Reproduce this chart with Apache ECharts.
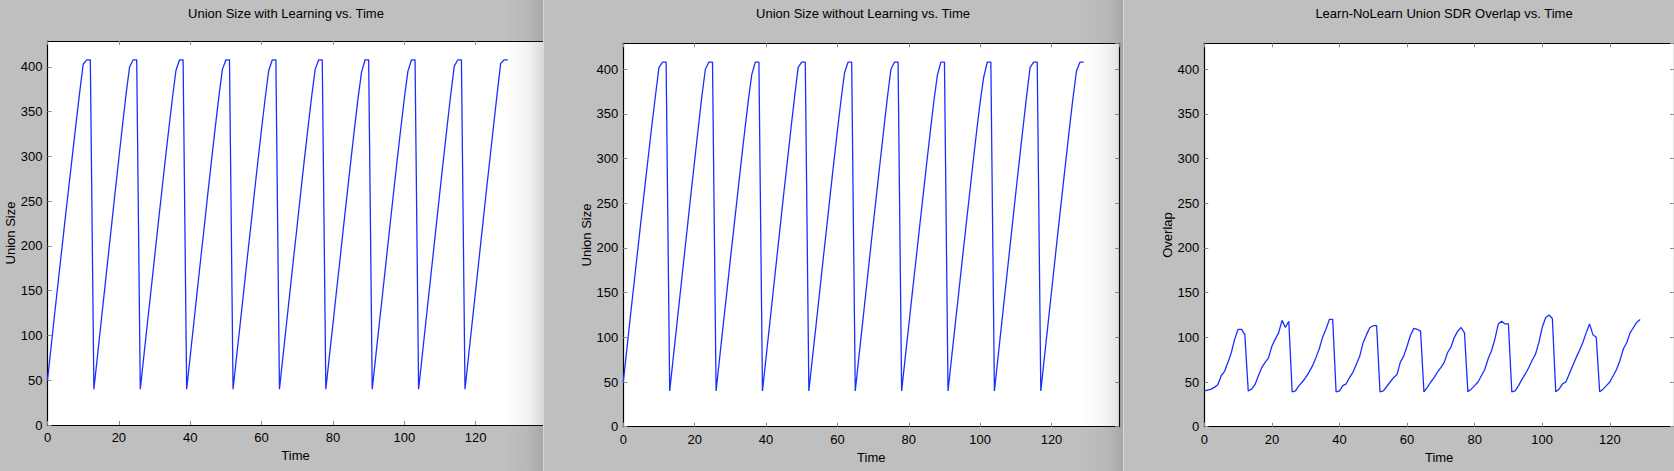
<!DOCTYPE html>
<html>
<head>
<meta charset="utf-8">
<script src="https://cdn.jsdelivr.net/npm/echarts@6/dist/echarts.min.js"></script>
<style>
html,body{margin:0;padding:0;background:#bfbfbf;}
#c{width:1674px;height:471px;}
</style>
</head>
<body>
<div id="c"></div>
<script>
// ---- data ----
const titles = ['Union Size with Learning vs. Time', 'Union Size without Learning vs. Time', 'Learn-NoLearn Union SDR Overlap vs. Time'];
const yNames = ['Union Size', 'Union Size', 'Overlap'];
const xName = 'Time';
const xTicks = [0, 20, 40, 60, 80, 100, 120];
const yTicks = [0, 50, 100, 150, 200, 250, 300, 350, 400];

const unionLearn = [
  50, 87, 124, 160, 196, 232, 267, 302, 337, 371, 403, 408, 408,
  40, 77, 114, 151, 188, 225, 262, 298, 334, 369, 400, 408, 408,
  40, 77, 114, 150, 187, 224, 260, 296, 331, 365, 396, 408, 408,
  40, 77, 114, 151, 188, 224, 261, 297, 332, 366, 397, 408, 408,
  40, 77, 113, 150, 187, 223, 260, 296, 331, 365, 396, 408, 408,
  40, 77, 114, 151, 188, 224, 261, 297, 332, 366, 397, 408, 408,
  40, 77, 113, 150, 186, 223, 259, 295, 330, 364, 394, 408, 408,
  40, 77, 114, 150, 187, 224, 260, 296, 331, 365, 395, 408, 408,
  40, 77, 114, 151, 188, 225, 262, 298, 334, 369, 401, 408, 408,
  40, 77, 114, 151, 188, 225, 262, 298, 334, 370, 404, 408, 408
];
const unionNoLearn = [
  50, 87, 124, 160, 196, 232, 267, 302, 337, 370, 402, 408, 408,
  40, 77, 114, 151, 188, 225, 262, 298, 334, 369, 400, 408, 408,
  40, 77, 114, 150, 187, 223, 259, 295, 330, 364, 394, 408, 408,
  40, 77, 114, 151, 188, 225, 262, 298, 334, 369, 402, 408, 408,
  40, 77, 113, 150, 187, 223, 260, 296, 331, 365, 396, 408, 408,
  40, 77, 114, 151, 188, 225, 261, 297, 333, 368, 400, 408, 408,
  40, 77, 113, 150, 186, 222, 258, 294, 329, 363, 393, 408, 408,
  40, 77, 114, 150, 187, 223, 259, 295, 330, 363, 391, 408, 408,
  40, 77, 114, 151, 188, 225, 262, 298, 334, 369, 402, 408, 408,
  40, 77, 114, 151, 188, 225, 261, 297, 333, 367, 398, 408, 408
];
const overlap = [
  40, 41, 42, 44, 47, 57, 62, 72, 83, 98, 109, 109, 103,
  40, 42, 47, 57, 66, 72, 77, 90, 98, 105, 119, 111, 118,
  39, 40, 46, 50, 55, 61, 68, 77, 87, 100, 109, 120, 120,
  39, 40, 46, 48, 55, 61, 70, 79, 94, 103, 111, 113, 113,
  39, 40, 45, 50, 55, 58, 72, 79, 90, 102, 110, 109, 107,
  39, 44, 50, 55, 61, 66, 72, 83, 89, 100, 107, 111, 105,
  39, 42, 46, 50, 57, 64, 76, 85, 98, 115, 118, 115, 115,
  39, 40, 46, 53, 59, 66, 74, 81, 94, 111, 122, 125, 121,
  39, 42, 48, 50, 59, 68, 77, 85, 94, 105, 115, 103, 100,
  39, 42, 46, 50, 57, 64, 74, 87, 94, 105, 111, 117, 120
];
const seriesData = [unionLearn, unionNoLearn, overlap];

// ---- layout ----
const FONT = '"Liberation Sans", Arial, Helvetica, sans-serif';
const XMAX = 139, YMAX = 429;
const grids = [
  {left: 47.5, top: 41, width: 496, height: 384},
  {left: 623.3, top: 43.3, width: 496, height: 383.4},
  {left: 1204.3, top: 43.3, width: 496, height: 383.4}
];
const titleX = [286, 863, 1444];
const tickStyle = {show: true, inside: true, length: 4, lineStyle: {color: '#8a8a8a', width: 1}};
const lineStyleAxis = {show: true, onZero: false, lineStyle: {color: '#000', width: 1.2}};

const xAxes = [], yAxes = [], series = [];
grids.forEach((g, i) => {
  xAxes.push({
    gridIndex: i, type: 'value', min: 0, max: XMAX, interval: 20, position: 'bottom',
    axisLine: lineStyleAxis, axisTick: tickStyle, splitLine: {show: false},
    axisLabel: {color: '#000', fontSize: 13, fontFamily: FONT, margin: 6, showMaxLabel: false,
      formatter: v => xTicks.indexOf(v) >= 0 ? String(v) : ''},
    name: xName, nameLocation: 'middle', nameGap: 22,
    nameTextStyle: {color: '#000', fontSize: 13, fontFamily: FONT}
  });
  xAxes.push({
    gridIndex: i, type: 'value', min: 0, max: XMAX, interval: 20, position: 'top',
    axisLine: lineStyleAxis, axisTick: tickStyle, splitLine: {show: false},
    axisLabel: {show: false}
  });
  yAxes.push({
    gridIndex: i, type: 'value', min: 0, max: YMAX, interval: 50, position: 'left',
    axisLine: lineStyleAxis, axisTick: tickStyle, splitLine: {show: false},
    axisLabel: {color: '#000', fontSize: 13, fontFamily: FONT, margin: 5, showMaxLabel: false,
      formatter: v => yTicks.indexOf(v) >= 0 ? String(v) : ''},
    name: yNames[i], nameLocation: 'middle', nameGap: 29, nameRotate: 90,
    nameTextStyle: {color: '#000', fontSize: 13, fontFamily: FONT}
  });
  if (i > 0) {
    yAxes.push({
      gridIndex: i, type: 'value', min: 0, max: YMAX, interval: 50, position: 'right',
      axisLine: lineStyleAxis, axisTick: tickStyle, splitLine: {show: false},
      axisLabel: {show: false}
    });
  }
});
const xIdx = [0, 2, 4];
const yIdx = [0, 1, 3];
seriesData.forEach((d, i) => {
  series.push({
    type: 'line', xAxisIndex: xIdx[i], yAxisIndex: yIdx[i],
    data: d.map((v, t) => [t, v]),
    showSymbol: false, symbol: 'none', smooth: false,
    lineStyle: {color: '#1a2fff', width: 1.3},
    animation: false, silent: true, clip: true
  });
});

const graphics = [];
titles.forEach((t, i) => {
  graphics.push({type: 'text', x: titleX[i], y: 13, z: 200,
    style: {text: t, fill: '#000', font: '13px ' + FONT, textAlign: 'center', textVerticalAlign: 'middle'}});
});
[543, 1123].forEach(x => {
  graphics.push({type: 'rect', shape: {x: x - 40, y: 0, width: 40, height: 471}, z: 150, silent: true,
    style: {fill: new echarts.graphic.LinearGradient(0, 0, 1, 0, [
      {offset: 0, color: 'rgba(70,70,70,0)'}, {offset: 0.6, color: 'rgba(70,70,70,0.06)'},
      {offset: 1, color: 'rgba(70,70,70,0.2)'}])}});
  graphics.push({type: 'rect', shape: {x: x, y: 0, width: 1, height: 471}, z: 151, silent: true,
    style: {fill: '#d6d6d6'}});
});

const chart = echarts.init(document.getElementById('c'), null, {renderer: 'svg', width: 1674, height: 471});
chart.setOption({
  backgroundColor: '#bfbfbf',
  animation: false,
  grid: grids.map(g => Object.assign({show: true, backgroundColor: '#fff', borderWidth: 0, containLabel: false}, g)),
  xAxis: xAxes, yAxis: yAxes, series: series, graphic: graphics
});
</script>
</body>
</html>
